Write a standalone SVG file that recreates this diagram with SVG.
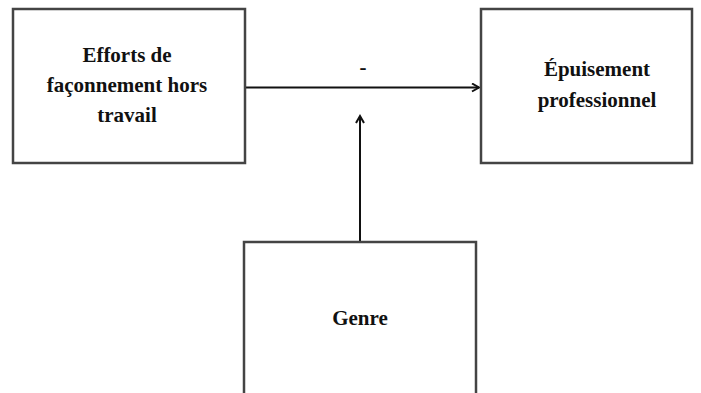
<svg xmlns="http://www.w3.org/2000/svg" width="701" height="393" viewBox="0 0 701 393">
<defs>
<style>
.box{fill:#fff;stroke:#444;stroke-width:2.5}
.t{font-family:"Liberation Serif","Times New Roman",serif;font-weight:bold;font-size:21px;fill:#111;text-anchor:middle}
.c{stroke:#111;stroke-width:2;fill:none}
</style>
<marker id="ah" markerWidth="10" markerHeight="10" refX="8" refY="5" orient="auto" markerUnits="userSpaceOnUse">
<path d="M1,1 L8,5 L1,9" fill="none" stroke="#111" stroke-width="2"/>
</marker>
</defs>
<rect width="701" height="393" fill="#fff"/>
<g id="connectors">
<line class="c" x1="245" y1="87.5" x2="479" y2="87.5" marker-end="url(#ah)"/>
<line class="c" x1="360" y1="242" x2="360" y2="116" marker-end="url(#ah)"/>
<text class="t" x="363" y="74">-</text>
</g>
<g id="node-efforts">
<rect class="box" x="13" y="9" width="232" height="154"/>
<text class="t" x="127" y="62">Efforts de</text>
<text class="t" x="127" y="92">façonnement hors</text>
<text class="t" x="127" y="122">travail</text>
</g>
<g id="node-epuisement">
<rect class="box" x="481" y="9" width="211" height="154"/>
<text class="t" x="597" y="76">Épuisement</text>
<text class="t" x="597" y="107">professionnel</text>
</g>
<g id="node-genre">
<rect class="box" x="244" y="242" width="232" height="160"/>
<text class="t" x="360" y="325">Genre</text>
</g>
</svg>
